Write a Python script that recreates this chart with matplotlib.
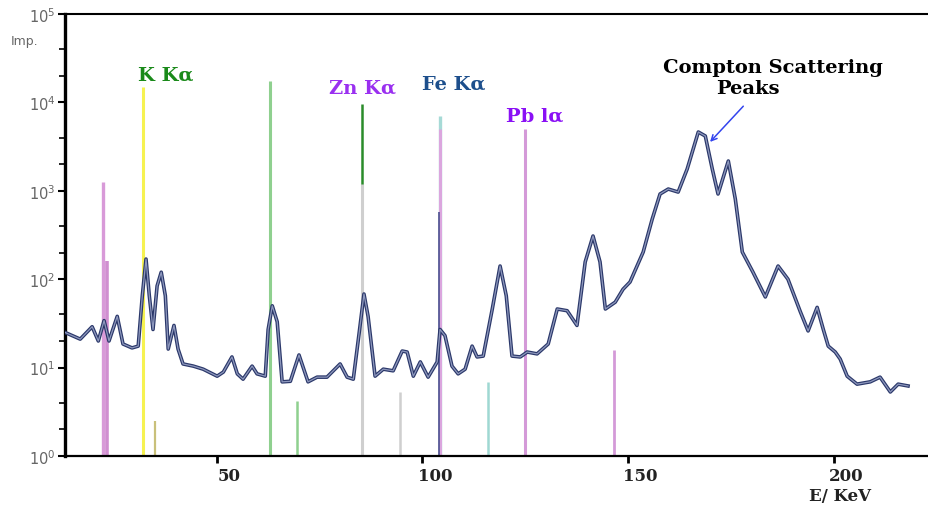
import matplotlib
matplotlib.use("Agg")
import matplotlib.pyplot as plt
import matplotlib.transforms as mtransforms
from matplotlib.ticker import LogLocator, NullFormatter

# spectrum (energy in keV, impulses)
energy = [13.1, 16.8, 19.7, 21.2, 22.6, 23.8, 25.8, 27.2, 29.4, 30.9,
          31.9, 32.8, 33.6, 34.5, 35.5, 36.5, 37.5, 38.2, 39.6, 40.6,
          41.8, 44.3, 46.7, 50.1, 51.6, 53.7, 55.0, 56.4, 58.6, 59.8,
          61.8, 62.5, 63.5, 64.7, 65.9, 67.9, 70.0, 72.2, 74.4, 76.8,
          80.0, 81.7, 83.2, 84.6, 85.8, 86.8, 88.5, 90.5, 92.9, 95.1,
          96.3, 97.8, 99.5, 101.4, 103.6, 104.3, 105.5, 107.2, 108.7, 110.4,
          112.1, 113.3, 114.8, 117.0, 118.9, 120.4, 121.8, 123.8, 125.5, 127.9,
          130.6, 132.8, 135.2, 137.6, 139.6, 141.5, 143.2, 144.5, 146.9, 148.8,
          150.5, 153.7, 155.9, 157.8, 159.8, 162.2, 164.4, 167.1, 168.8, 170.5,
          171.9, 174.4, 176.1, 177.8, 180.4, 183.4, 186.5, 188.9, 191.9, 193.8,
          196.0, 197.5, 198.7, 200.4, 201.6, 203.3, 205.7, 208.9, 211.3, 213.8,
          215.7, 218.1]
counts = [25, 21, 29, 20, 34, 20, 38, 18.5, 16.7, 17.5,
          65, 169, 65, 27, 84, 120, 65, 16.2, 30, 16.2,
          11.0, 10.4, 9.6, 8.0, 8.9, 13.2, 8.5, 7.4, 10.4, 8.5,
          8.0, 27, 50, 33, 6.9, 7.0, 13.9, 6.9, 7.8, 7.8,
          11.0, 7.8, 7.4, 24, 68, 38, 8.0, 9.6, 9.2, 15.4,
          15.0, 8.0, 11.6, 7.8, 11.6, 27, 23, 10.4, 8.5, 9.6,
          17.5, 13.2, 13.5, 46, 141, 65, 13.5, 13.2, 15.0, 14.3,
          18.5, 46, 44, 30, 157, 308, 157, 46, 55, 77,
          93, 203, 480, 920, 1047, 968, 1766, 4624, 4169, 1766,
          920, 2173, 807, 203, 120, 63, 141, 100, 43, 26,
          48, 27, 17.5, 15.0, 12.5, 8.0, 6.5, 6.9, 7.8, 5.3,
          6.5, 6.2]

# reference element lines: position, height, colour
line_energy = [22.4, 23.4, 32.1, 35.0, 63.0, 69.6, 85.4, 85.4, 94.6,
               104.3, 104.3, 104.0, 116.0, 125.0, 146.6]
line_height = [1260, 160, 15000, 2.5, 17500, 4.2, 9500, 1200, 5.3,
               7000, 5000, 570, 6.9, 5000, 15.8]
line_color = ["#d89ad8", "#d08ed0", "#f6f250", "#c9c07a", "#8fd08f", "#8fd08f",
              "#2a8c2a", "#cfcfcf", "#cfcfcf", "#a6dad6", "#dba6de", "#4b4f8f",
              "#9fd8d2", "#d49ad8", "#d49ad8"]
line_width = [2.4, 2.6, 2.2, 1.6, 2.2, 1.8, 1.8, 2.2, 1.8, 2.4, 2.2, 1.2,
              1.8, 2.2, 2.0]

x_ticks = [50, 100, 150, 200]
y_ticks = [1e0, 1e1, 1e2, 1e3, 1e4, 1e5]
y_tick_labels = ["$10^{0}$", "$10^{1}$", "$10^{2}$", "$10^{3}$", "$10^{4}$", "$10^{5}$"]

serif = "DejaVu Serif"

fig = plt.figure(figsize=(9.29, 5.06), dpi=100)
ax = fig.add_axes([65 / 929, 49 / 506, 864 / 929, 442 / 506])

for e, h, c, w in zip(line_energy, line_height, line_color, line_width):
    ax.vlines(e, 1, h, colors=c, linewidth=w, zorder=1)

ax.plot(energy, counts, color="#2b386a", lw=2.6, zorder=3, solid_joinstyle="round")
ax.plot(energy, counts, color="#8e98bd", lw=0.9, zorder=4, solid_joinstyle="round")

ax.set_yscale("log")
ax.set_xlim(13.1, 223.2)
ax.set_ylim(1, 1e5)

ax.set_xticks(x_ticks)
ax.set_xticklabels([str(t) for t in x_ticks], fontfamily=serif, fontweight="bold",
                   fontsize=12, color="#222222")
ax.set_yticks(y_ticks)
ax.set_yticklabels(y_tick_labels, fontsize=10.5, color="#666666")
ax.yaxis.set_minor_locator(LogLocator(base=10, subs=(2.0, 4.0)))
ax.yaxis.set_minor_formatter(NullFormatter())
ax.tick_params(axis="y", which="major", direction="out", length=5, width=1.5, pad=2)
ax.tick_params(axis="y", which="minor", direction="out", length=4, width=1.2)
ax.tick_params(axis="x", direction="out", length=5, width=2, pad=3)

shift = mtransforms.ScaledTranslation(9 / 72, 0, fig.dpi_scale_trans)
for lbl in ax.get_xticklabels():
    lbl.set_transform(lbl.get_transform() + shift)

ax.spines["right"].set_visible(False)
ax.spines["left"].set_linewidth(2.4)
ax.spines["bottom"].set_linewidth(1.6)
ax.spines["top"].set_linewidth(1.5)

fig.text(25 / 929, 1 - 42 / 506, "Imp.", fontsize=9, color="#666666",
         ha="center", va="center")
fig.text(840 / 929, 1 - 497 / 506, "E/ KeV", fontfamily=serif, fontweight="bold",
         fontsize=12, color="#222222", ha="center", va="center")

# element labels
ax.text(37.5, 10**4.32, "K Kα", fontfamily=serif, fontweight="bold", fontsize=14,
        color="#1a8a1a", ha="center", va="center")
ax.text(85.4, 10**4.17, "Zn Kα", fontfamily=serif, fontweight="bold", fontsize=14,
        color="#9a30f0", ha="center", va="center")
ax.text(107.7, 10**4.21, "Fe Kα", fontfamily=serif, fontweight="bold", fontsize=14,
        color="#1d4f8c", ha="center", va="center")
ax.text(127.2, 10**3.85, "Pb lα", fontfamily=serif, fontweight="bold", fontsize=14,
        color="#8a10f5", ha="center", va="center")
ax.text(185.3, 10**4.40, "Compton Scattering", fontfamily=serif, fontweight="bold",
        fontsize=14, color="black", ha="center", va="center")
ax.text(179.2, 10**4.16, "Peaks", fontfamily=serif, fontweight="bold",
        fontsize=14, color="black", ha="center", va="center")
ax.annotate("", xy=(169.5, 10**3.53), xytext=(178.5, 10**3.98),
            arrowprops=dict(arrowstyle="->", color="#3344ee", lw=1.1))

fig.savefig("out.png", dpi=100)
